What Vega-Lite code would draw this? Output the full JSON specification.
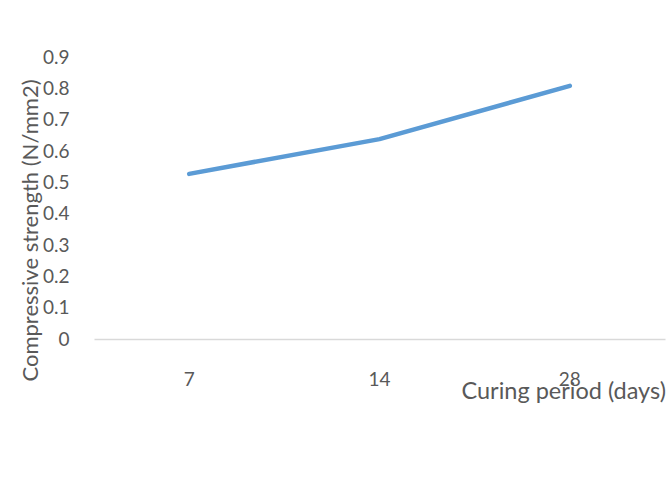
{
  "$schema": "https://vega.github.io/schema/vega-lite/v6.json",
  "width": 571,
  "height": 282,
  "autosize": {"type": "none"},
  "padding": {"left": 94, "top": 57, "right": 7, "bottom": 152},
  "background": "white",
  "config": {
    "view": {"stroke": null},
    "font": "Lato",
    "axis": {"labelFont": "Lato", "titleFont": "Lato"}
  },
  "data": {
    "values": [
      {"period": "7", "strength": 0.527},
      {"period": "14", "strength": 0.638},
      {"period": "28", "strength": 0.808}
    ]
  },
  "mark": {"type": "line", "color": "#5b9bd5", "strokeWidth": 4.5, "strokeCap": "round", "strokeJoin": "round", "interpolate": "linear"},
  "encoding": {
    "x": {
      "field": "period",
      "type": "ordinal",
      "sort": null,
      "scale": {"type": "band", "paddingInner": 0, "paddingOuter": 0},
      "axis": {
        "title": "Curing period (days)",
        "titleAnchor": "start",
        "titleAlign": "left",
        "titleX": 367,
        "titleY": 52,
        "titleBaseline": "middle",
        "titleFontSize": 23.5,
        "titleFontWeight": "normal",
        "titleColor": "#595959",
        "labelAngle": 0,
        "labelFontSize": 19,
        "labelColor": "#595959",
        "labelPadding": 31,
        "ticks": false,
        "domainColor": "#d9d9d9",
        "domainWidth": 1.5
      }
    },
    "y": {
      "field": "strength",
      "type": "quantitative",
      "scale": {"domain": [0, 0.9], "nice": false},
      "axis": {
        "title": "Compressive strength (N/mm2)",
        "values": [0, 0.1, 0.2, 0.3, 0.4, 0.5, 0.6, 0.7, 0.8, 0.9],
        "format": "~g",
        "grid": false,
        "domain": false,
        "ticks": false,
        "labelFontSize": 19,
        "labelColor": "#595959",
        "labelPadding": 25,
        "titleFontSize": 22,
        "titleFontWeight": "normal",
        "titleColor": "#595959",
        "titleX": -64,
        "titleY": 173,
        "titleBaseline": "middle"
      }
    }
  }
}
